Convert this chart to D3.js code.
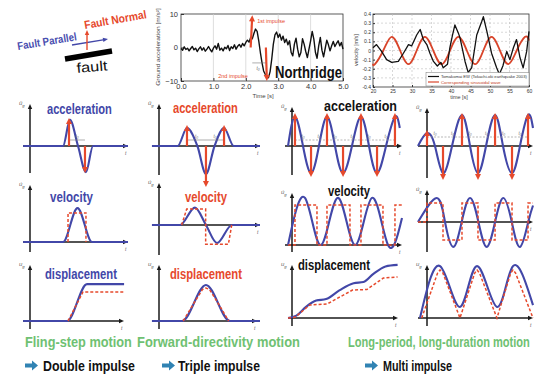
<!DOCTYPE html>
<html><head><meta charset="utf-8">
<script src="https://cdn.jsdelivr.net/npm/d3@7"></script>
<style>
html,body{margin:0;padding:0;background:#fff;}
svg{display:block;}
text{font-family:"Liberation Sans",Arial,sans-serif;}
.ttl{font-family:"Liberation Sans Narrow","Arial Narrow","Liberation Sans",Arial,sans-serif;font-weight:bold;}
</style></head><body>
<svg id="fig" width="535" height="374"></svg>
<script>
// ---------------- data ----------------
// Northridge record, ground acceleration [m/s^2], one sample every 0.05 s from 0 to 5 s
const northridgeDt = 0.05;
const northridgeAcc = [-0.3,-0.8,0.2,-0.6,-0.2,-1.0,-0.3,0.3,-0.7,-0.2,
  -1.2,-0.4,0.2,-0.8,-0.1,-1.1,-0.5,0.3,-0.6,-1.3,
  -0.2,0.5,-0.5,1.2,-0.8,-0.2,-1.0,0.1,-0.4,0.6,
  -0.9,0.2,-0.3,0.8,-0.5,0.4,0.9,0.1,1.2,0.5,
  1.5,2.2,1.6,3.0,2.6,4.2,5.5,4.8,2.0,-1.5,
  -4.5,-7.0,-8.0,-8.8,-9.0,-7.2,-3.5,1.0,3.8,4.6,
  3.0,4.0,2.2,3.4,1.5,2.5,0.8,2.0,-1.5,-2.5,
  1.0,2.8,-0.5,-2.8,-1.5,2.6,1.0,-1.2,-3.0,-0.5,
  2.0,4.8,2.5,-1.5,-3.2,0.5,3.0,-0.8,-2.8,-0.3,
  2.2,0.8,-1.0,0.5,1.8,0.3,1.2,2.0,0.5,1.5,-0.5];
const northridgeXTicks = [0,1,2,3,4,5];
const northridgeYTicks = [-10,0,10];
// impulse arrows: start time, tip time, tip acceleration
const northridgeImpulses = [
  {t0:2.15, t1:2.2, a:9.6, label:"1st impulse"},
  {t0:2.62, t1:2.65, a:-10.0, label:"2nd impulse"}
];

// Tomakomai EW velocity record [s], [m/s]
const tomakomaiT = [20,20.9,22.2,23.5,24.8,26.5,27.8,29.1,29.9,31.2,32.1,32.9,33.8,34.6,35.5,36.5,37.4,38.0,39.1,39.7,
  40.4,41.0,41.9,42.3,43.6,44.4,45.3,46.6,47.9,48.3,49.2,50.4,51.7,52.4,53.3,54.3,55.1,56.0,56.8,57.7,58.5,59.4,60];
const tomakomaiV = [0.03,0.065,-0.01,-0.10,-0.13,-0.12,-0.03,0.065,0.05,0.17,0.23,0.12,0.065,-0.03,-0.12,-0.17,-0.13,-0.19,-0.15,0.03,
  0.17,0.28,0.19,0.14,-0.12,-0.24,-0.19,0.17,0.32,0.37,0.21,-0.03,-0.19,-0.26,-0.17,-0.01,-0.10,0.03,0.12,-0.08,-0.19,-0.01,0.21];
// corresponding sinusoidal wave: crests, troughs and zero crossings
const sineT = [20,20.5,22.65,24.8,26.95,29.1,31.2,33.3,35.45,37.6,39.75,41.9,44.05,46.2,48.3,50.4,52.55,54.7,56.85,59.0,60];
const sineV = [-0.145,-0.15,0,0.15,0,-0.15,0,0.15,0,-0.15,0,0.15,0,-0.15,0,0.15,0,-0.15,0,0.15,0.11];
const velXTicks = [20,25,30,35,40,45,50,55,60];
const velYTicks = [-0.4,-0.3,-0.2,-0.1,0,0.1,0.2,0.3,0.4];

// Idealised waves, [time, amplitude] in normalised units
// fling-step motion: double impulse
const flingAccBlue  = [[-0.7,0],[3.37,0],[4.08,0.87],[4.9,0],[5.71,-0.87],[6.43,0],[10,0]];
const flingImpulses = [[3.98,0.93],[5.61,-0.9]];
const flingVelBlue  = [[-0.7,0],[3.37,0],[4.85,1.13],[6.33,0],[10,0]];
const flingVelRed   = [[3.88,0],[3.88,0.97],[5.71,0.97],[5.71,0]];
const flingDispBlue = [[-0.7,0],[3.78,0],[5.82,1.23],[9.6,1.23]];
const flingDispRed  = [[3.88,0],[5.41,0.97],[9.6,0.97]];
// forward-directivity motion: triple impulse
const fwdAccBlue  = [[-0.7,0],[1.85,0],[2.77,0.6],[3.8,0],[4.65,-0.93],[5.5,0],[6.44,0.6],[7.4,0],[10,0]];
const fwdImpulses = [[2.77,0.7],[4.65,-1.37],[6.44,0.7]];
const fwdVelBlue  = [[-0.7,0],[2.08,0],[3.56,0.58],[4.65,0],[5.74,-0.6],[7.23,0],[10,0]];
const fwdVelRed   = [[2.24,0],[2.74,0.53],[4.62,0.53],[4.62,-0.64],[6.87,-0.64],[7.2,0]];
const fwdDispBlue = [[-0.7,0],[2.28,0],[4.65,1.2],[7.03,0],[10,0]];
const fwdDispRed  = [[2.4,0],[3.5,0.62],[4.3,1.05],[4.65,1.1],[5.0,1.05],[5.8,0.62],[6.9,0]];
// long-period, long-duration motion: multi impulse (one-sided)
const lpAccBlue  = [[-0.36,0],[0.27,0.97],[1.0,0],[1.73,-0.9],[2.45,0],[3.18,0.97],[3.91,0],[4.64,-0.9],[5.45,0],[6.27,0.97],[7.0,0],[7.73,-0.9],[8.55,0],[9.36,0.97],[9.8,0.6]];
const lpImpulses = [[0.27,1.1],[1.73,-1.03],[3.18,1.1],[4.64,-1.03],[6.27,1.1],[7.73,-1.03],[9.36,1.1]];
const lpVelBlue  = [[-0.36,0],[1.18,1.57],[2.64,0],[4.18,1.57],[5.73,0],[7.27,1.57],[8.73,0],[10,0.9]];
const lpVelRed   = [[-0.36,0],[0.27,0],[0.27,1.33],[2.27,1.33],[2.27,0],[3.18,0],[3.18,1.33],[5.27,1.33],[5.27,0],[6.27,0],[6.27,1.33],[8.27,1.33],[8.27,0],[9.36,0],[9.36,1.33],[10,1.33]];
const lpDispBlue = [[-0.36,0],[0.4,0.08],[1.3,0.38],[2.2,0.58],[3.1,0.63],[4.3,0.92],[5.6,1.16],[6.5,1.2],[7.4,1.47],[8.5,1.72],[9.6,1.77]];
const lpDispRed  = [[-0.36,0],[0.3,0.03],[1.6,0.43],[3.2,0.47],[5.5,0.93],[6.8,0.95],[8.3,1.33],[9.6,1.37]];
// long-period motion: multi impulse (alternating)
const sinAccBlue  = [[-0.85,0],[0,0.43],[0.75,0],[1.51,-0.9],[2.36,0],[3.3,1.03],[4.06,0],[4.81,-0.9],[5.57,0],[6.42,1.03],[7.17,0],[8.02,-0.9],[8.77,0],[9.53,1.03],[10,0.6]];
const sinImpulses = [[0,0.53],[1.51,-1.13],[3.3,1.1],[4.81,-1.13],[6.42,1.1],[8.02,-1.13],[9.53,1.1]];
const sinVelBlue  = [[-0.85,0],[0.91,0.8],[1.7,0],[2.48,-0.83],[3.27,0],[4.06,0.8],[4.85,0],[5.63,-0.83],[6.42,0],[7.2,0.8],[8.0,0],[8.77,-0.83],[9.55,0],[10,0.55]];
const sinVelRed   = [[-0.85,0],[0,0],[0,0.63],[1.51,0.63],[1.51,-0.6],[3.3,-0.6],[3.3,0.63],[4.81,0.63],[4.81,-0.6],[6.42,-0.6],[6.42,0.63],[8.02,0.63],[8.02,-0.6],[9.53,-0.6],[9.53,0.63],[10,0.63]];
const sinDispBlue = [[-0.66,0],[1.23,1.73],[3.11,0.37],[4.72,1.73],[6.6,0.37],[8.11,1.73],[10,0.43]];
const sinDispRed  = [[-0.5,0],[1.0,1.5],[1.23,1.6],[1.5,1.5],[3.11,0],[4.5,1.5],[4.72,1.6],[4.95,1.5],[6.6,0],[7.9,1.5],[8.11,1.6],[8.35,1.5],[10,0]];

const motionNames  = ["Fling-step motion","Forward-directivity motion","Long-period, long-duration motion"];
const impulseNames = ["Double impulse","Triple impulse","Multi impulse"];

// ---------------- drawing ----------------
const BLUE = "#4247a8", RED = "#e6492c", GREEN = "#6fc172", INK = "#1a1a1a";
const svg = d3.select("#fig");

function arrow(g, x1, y1, x2, y2, color, w, len, half) {
  const a = Math.atan2(y2 - y1, x2 - x1), c = Math.cos(a), s = Math.sin(a);
  g.append("line").attr("x1", x1).attr("y1", y1)
    .attr("x2", x2 - len * 0.7 * c).attr("y2", y2 - len * 0.7 * s)
    .attr("stroke", color).attr("stroke-width", w);
  const bx = x2 - len * c, by = y2 - len * s, px = -s * half, py = c * half;
  g.append("path").attr("d", `M${x2},${y2}L${bx + px},${by + py}L${bx - px},${by - py}Z`).attr("fill", color);
}

// text squeezed horizontally to a given width (condensed lettering)
function fitText(g, str, x, y, w, size, color, opts = {}) {
  const t = g.append("text").attr("font-size", size).attr("fill", color).text(str);
  if (opts.cls) t.attr("class", opts.cls);
  if (opts.weight) t.attr("font-weight", opts.weight);
  if (opts.anchor) t.attr("text-anchor", opts.anchor);
  const len = t.node().getComputedTextLength() || w;
  const rot = opts.rotate ? ` rotate(${opts.rotate})` : "";
  t.attr("transform", `translate(${x},${y})${rot} scale(${w / len},1)`);
  return t;
}

// ---- fault sketch ----
const gF = svg.append("g");
gF.append("line").attr("x1", 65).attr("y1", 59).attr("x2", 112).attr("y2", 51).attr("stroke", "#000").attr("stroke-width", 5.5);
arrow(gF, 72, 45, 108, 39, BLUE, 1.4, 5, 2.2);
arrow(gF, 87, 50, 87, 30, RED, 1.4, 5, 2.2);
fitText(gF, "Fault Parallel", 18, 50, 60, 11, "#4a4fb0", {weight: "bold", rotate: -9.5});
fitText(gF, "Fault Normal", 85, 29, 63, 11.5, RED, {weight: "bold", rotate: -10});
fitText(gF, "fault", 77, 73, 31, 14, "#111", {rotate: -5});

// ---- Northridge acceleration ----
{
  const x = d3.scaleLinear().domain([0, 5]).range([181, 343]);
  const y = d3.scaleLinear().domain([-10, 10]).range([81, 14]);
  const g = svg.append("g");
  g.append("rect").attr("x", x(0)).attr("y", y(10)).attr("width", x(5) - x(0)).attr("height", y(-10) - y(10))
    .attr("fill", "#fff").attr("stroke", "#333").attr("stroke-width", 0.8);
  g.selectAll(".vg").data(northridgeXTicks.slice(1, -1)).join("line")
    .attr("x1", d => x(d)).attr("x2", d => x(d)).attr("y1", y(10)).attr("y2", y(-10))
    .attr("stroke", "#d0d0d0").attr("stroke-width", 0.7);
  const ax = g.append("g").attr("transform", `translate(${x(0)},0)`)
    .call(d3.axisLeft(y).tickValues(northridgeYTicks).tickSize(-3).tickPadding(3));
  const bx = g.append("g").attr("transform", `translate(0,${y(-10)})`)
    .call(d3.axisBottom(x).tickValues(northridgeXTicks).tickSize(-3).tickPadding(3));
  [ax, bx].forEach(a => { a.select(".domain").remove(); a.attr("font-size", 7.5).attr("font-family", "Liberation Sans, Arial, sans-serif");
    a.selectAll("line").attr("stroke", "#333"); a.selectAll("text").attr("fill", "#333"); });
  g.append("path").datum(northridgeAcc)
    .attr("d", d3.line().x((d, i) => x(i * northridgeDt)).y(d => y(d)))
    .attr("fill", "none").attr("stroke", "#111").attr("stroke-width", 1.4).attr("stroke-linejoin", "round");
  northridgeImpulses.forEach(p => arrow(g, x(p.t0), y(0), x(p.t1), y(p.a), RED, 2.2, 6, 3));
  g.append("text").attr("x", x(2.35)).attr("y", y(7.3)).attr("font-size", 5.5).attr("fill", RED).text(northridgeImpulses[0].label);
  g.append("text").attr("x", x(1.15)).attr("y", y(-9.2)).attr("font-size", 5.5).attr("fill", RED).text(northridgeImpulses[1].label);
  g.append("line").attr("x1", x(northridgeImpulses[0].t1)).attr("x2", x(northridgeImpulses[1].t0))
    .attr("y1", y(-4.6)).attr("y2", y(-4.6)).attr("stroke", "#777").attr("stroke-width", 0.6);
  g.append("text").attr("x", x(2.33)).attr("y", y(-6.6)).attr("font-size", 4.5).attr("font-style", "italic").attr("fill", "#666").text("t₀");
  fitText(g, "Northridge", 275, 78, 67, 16, "#111", {cls: "ttl"});
  fitText(g, "Ground acceleration [m/s²]", 160, 47, 78, 6, "#444", {anchor: "middle", rotate: -90});
  g.append("text").attr("x", 263).attr("y", 98).attr("text-anchor", "middle").attr("font-size", 6).attr("fill", "#444").text("Time [s]");
}

// ---- Tomakomai velocity vs sinusoid ----
{
  const x = d3.scaleLinear().domain([20, 60]).range([373, 529]);
  const y = d3.scaleLinear().domain([-0.4, 0.4]).range([87, 14]);
  const g = svg.append("g");
  g.append("rect").attr("x", x(20)).attr("y", y(0.4)).attr("width", x(60) - x(20)).attr("height", y(-0.4) - y(0.4))
    .attr("fill", "#fff").attr("stroke", "#333").attr("stroke-width", 0.8);
  g.selectAll(".vg").data(velXTicks.slice(1, -1)).join("line")
    .attr("x1", d => x(d)).attr("x2", d => x(d)).attr("y1", y(0.4)).attr("y2", y(-0.4))
    .attr("stroke", "#bdbdbd").attr("stroke-width", 0.6).attr("stroke-dasharray", "2,2");
  g.selectAll(".hg").data(velYTicks.slice(1, -1)).join("line")
    .attr("y1", d => y(d)).attr("y2", d => y(d)).attr("x1", x(20)).attr("x2", x(60))
    .attr("stroke", "#bdbdbd").attr("stroke-width", 0.6).attr("stroke-dasharray", "2,2");
  const fmt = d => (Math.abs(d) < 1e-9 ? "0" : d.toFixed(1));
  const ax = g.append("g").attr("transform", `translate(${x(20)},0)`)
    .call(d3.axisLeft(y).tickValues(velYTicks).tickFormat(fmt).tickSize(-2).tickPadding(2));
  const bx = g.append("g").attr("transform", `translate(0,${y(-0.4)})`)
    .call(d3.axisBottom(x).tickValues(velXTicks).tickSize(-2).tickPadding(2));
  [ax, bx].forEach(a => { a.select(".domain").remove(); a.attr("font-size", 5).attr("font-family", "Liberation Sans, Arial, sans-serif");
    a.selectAll("line").attr("stroke", "#333"); a.selectAll("text").attr("fill", "#333"); });
  g.append("path").datum(d3.zip(sineT, sineV))
    .attr("d", d3.line().x(d => x(d[0])).y(d => y(d[1])).curve(d3.curveNatural))
    .attr("fill", "none").attr("stroke", "#d8442a").attr("stroke-width", 1.8);
  g.append("path").datum(d3.zip(tomakomaiT, tomakomaiV))
    .attr("d", d3.line().x(d => x(d[0])).y(d => y(d[1])))
    .attr("fill", "none").attr("stroke", "#111").attr("stroke-width", 1.3).attr("stroke-linejoin", "round");
  // legend
  g.append("rect").attr("x", 426).attr("y", 72.5).attr("width", 103).attr("height", 13.5).attr("fill", "#fff").attr("stroke", "#777").attr("stroke-width", 0.5);
  g.append("line").attr("x1", 428).attr("x2", 439).attr("y1", 76.5).attr("y2", 76.5).attr("stroke", "#111").attr("stroke-width", 1.2);
  g.append("line").attr("x1", 428).attr("x2", 439).attr("y1", 82).attr("y2", 82).attr("stroke", "#d8442a").attr("stroke-width", 1.2);
  fitText(g, "Tomakomai EW (Tokachi-oki earthquake 2003)", 441, 78, 86, 3.8, "#333");
  fitText(g, "Corresponding sinusoidal wave", 441, 83.5, 60, 3.8, "#c43a22");
  g.append("text").attr("transform", "translate(358,50) rotate(-90)").attr("text-anchor", "middle").attr("font-size", 5.5)
    .attr("fill", "#444").text("velocity [m/s]");
  g.append("text").attr("x", 459).attr("y", 99).attr("text-anchor", "middle").attr("font-size", 5.5).attr("fill", "#444").text("time [s]");
}

// ---- idealised impulse panels ----
const colGeom = [
  {yx: 30, xEnd: 128}, {yx: 159, xEnd: 260}, {yx: 292, xEnd: 402}, {yx: 427, xEnd: 533}
];
const SYM = ["ü", "u̇", "u"];
const panels = [
  {col:0, row:0, h0:23, h1:128, top:104, axisY:146, bottom:173, blue:flingAccBlue, bc:"monotone", imp:flingImpulses, dim:"pair", dimY:0.2,
   title:{text:"acceleration", x:47, y:114, w:65, color:BLUE}},
  {col:0, row:1, h0:23, h1:128, top:185, axisY:242, bottom:252, blue:flingVelBlue, bc:"monotone", red:flingVelRed,
   title:{text:"velocity", x:50, y:202, w:43, color:BLUE}},
  {col:0, row:2, h0:23, h1:124, top:265, axisY:321, bottom:329, blue:flingDispBlue, bc:"monotone", red:flingDispRed,
   title:{text:"displacement", x:45, y:279, w:72, color:BLUE}},
  {col:1, row:0, h0:152, h1:260, top:104, axisY:146, bottom:175, blue:fwdAccBlue, bc:"monotone", imp:fwdImpulses, dim:"pair", dimY:0.2,
   title:{text:"acceleration", x:173, y:113, w:65, color:RED}},
  {col:1, row:1, h0:152, h1:260, top:183, axisY:225, bottom:255, blue:fwdVelBlue, bc:"monotone", red:fwdVelRed,
   title:{text:"velocity", x:185, y:202, w:42, color:RED}},
  {col:1, row:2, h0:152, h1:257, top:265, axisY:321, bottom:329, blue:fwdDispBlue, bc:"monotone", red:fwdDispRed,
   title:{text:"displacement", x:170, y:279, w:72, color:RED}},
  {col:2, row:0, h0:285, h1:402, top:107, axisY:146, bottom:175, blue:lpAccBlue, bc:"natural", imp:lpImpulses, dim:"line", dimY:0.2,
   title:{text:"acceleration", x:324, y:111, w:73, color:"#111"}},
  {col:2, row:1, h0:285, h1:402, top:193, axisY:245, bottom:252, blue:lpVelBlue, bc:"natural", red:lpVelRed,
   title:{text:"velocity", x:328, y:196, w:42, color:"#111"}},
  {col:2, row:2, h0:288, h1:398, top:265, axisY:318, bottom:326, blue:lpDispBlue, bc:"monotone", red:lpDispRed,
   title:{text:"displacement", x:298, y:270, w:72, color:"#111"}},
  {col:3, row:0, h0:418, h1:533, top:108, axisY:146, bottom:178, blue:sinAccBlue, bc:"natural", imp:sinImpulses, dim:"line", dimY:0.3},
  {col:3, row:1, h0:418, h1:533, top:190, axisY:222, bottom:252, blue:sinVelBlue, bc:"natural", red:sinVelRed},
  {col:3, row:2, h0:418, h1:533, top:265, axisY:318, bottom:326, blue:sinDispBlue, bc:"natural", red:sinDispRed}
];

function drawPanel(P) {
  const C = colGeom[P.col];
  const g = svg.append("g");
  const x = d3.scaleLinear().domain([0, 10]).range([C.yx, C.xEnd]);
  const y = d3.scaleLinear().domain([-1, 1]).range([P.axisY + 30, P.axisY - 30]);
  arrow(g, P.h0, y(0), P.h1, y(0), INK, 1.5, 5, 2.2);
  arrow(g, x(0), P.bottom, x(0), P.top, INK, 1.5, 5, 2.2);
  const lab = g.append("text").attr("x", x(0) - 11).attr("y", P.top + 1).attr("font-size", 6)
    .attr("font-style", "italic").attr("fill", "#666").text(SYM[P.row]);
  lab.append("tspan").attr("dy", 1.5).attr("font-size", 4.2).text("g");
  g.append("text").attr("x", P.h1 - 3).attr("y", y(0) + 9).attr("font-size", 5).attr("font-style", "italic").attr("fill", "#666").text("t");
  const curve = P.bc === "natural" ? d3.curveNatural : d3.curveMonotoneX;
  g.append("path").datum(P.blue).attr("d", d3.line().x(d => x(d[0])).y(d => y(d[1])).curve(curve))
    .attr("fill", "none").attr("stroke", BLUE).attr("stroke-width", 2.1).attr("stroke-linejoin", "round");
  if (P.red) {
    g.append("path").datum(P.red).attr("d", d3.line().x(d => x(d[0])).y(d => y(d[1])))
      .attr("fill", "none").attr("stroke", RED).attr("stroke-width", 1.5).attr("stroke-dasharray", "3,2");
  }
  if (P.imp) {
    if (P.dim === "line") {
      g.append("line").attr("x1", x(P.imp[0][0])).attr("x2", x(P.imp[P.imp.length - 1][0]))
        .attr("y1", y(P.dimY)).attr("y2", y(P.dimY)).attr("stroke", "#999").attr("stroke-width", 0.7).attr("stroke-dasharray", "2,1.5");
    }
    d3.pairs(P.imp).forEach(([a, b]) => {
      if (P.dim === "pair") {
        g.append("line").attr("x1", x(a[0])).attr("x2", x(b[0])).attr("y1", y(P.dimY)).attr("y2", y(P.dimY))
          .attr("stroke", "#777").attr("stroke-width", 0.6);
      }
      g.append("text").attr("x", x((a[0] + b[0]) / 2)).attr("y", y(P.dimY) - 2).attr("text-anchor", "middle")
        .attr("font-size", 4.5).attr("font-style", "italic").attr("fill", "#777").text("t₀");
    });
    P.imp.forEach(d => arrow(g, x(d[0]), y(0), x(d[0]), y(d[1]), RED, 2.2, 6, 3));
  }
  if (P.title) fitText(g, P.title.text, P.title.x, P.title.y, P.title.w, 14, P.title.color, {cls: "ttl"});
}
panels.forEach(drawPanel);

// ---- captions ----
const capPos = [{x:25, w:107}, {x:137, w:163}, {x:348, w:182}];
motionNames.forEach((t, i) => fitText(svg, t, capPos[i].x, 347, capPos[i].w, 14, GREEN, {cls: "ttl"}));
const impPos = [{ax:25, x:43, w:92}, {ax:162, x:178, w:82}, {ax:365, x:383, w:69}];
impulseNames.forEach((t, i) => {
  const p = impPos[i], cy = 365.5;
  svg.append("path").attr("d", `M${p.ax},${cy - 2}H${p.ax + 7}V${cy - 5}L${p.ax + 13},${cy}L${p.ax + 7},${cy + 5}V${cy + 2}H${p.ax}Z`)
    .attr("fill", "#3183b3");
  fitText(svg, t, p.x, 370.5, p.w, 15, "#111", {cls: "ttl"});
});
</script>
</body></html>
